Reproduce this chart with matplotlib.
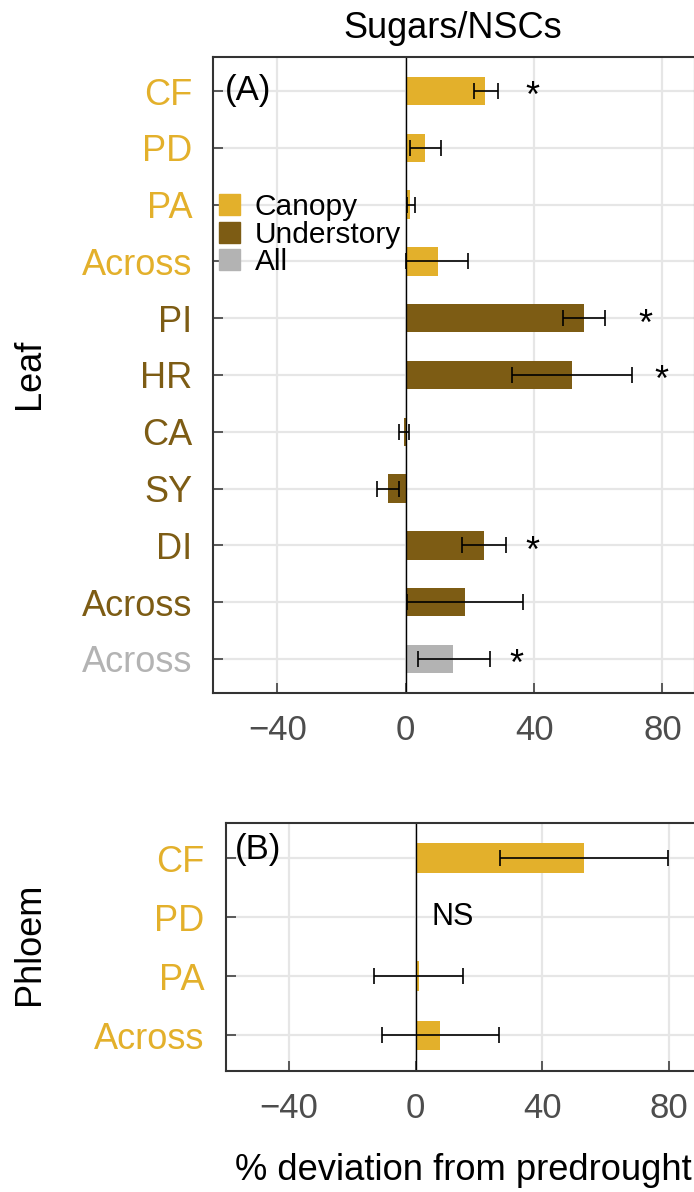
import numpy as np
import matplotlib
matplotlib.use("Agg")
import matplotlib.pyplot as plt
from matplotlib.patches import Patch

plt.rcParams['font.family'] = ['Liberation Sans', 'DejaVu Sans']

# ---------------- data ----------------
leaf_labels = ['CF', 'PD', 'PA', 'Across', 'PI', 'HR', 'CA', 'SY', 'DI', 'Across', 'Across']
leaf_groups = ['Canopy'] * 4 + ['Understory'] * 6 + ['All']
leaf_mean = [24.8, 6.1, 1.5, 10.0, 55.4, 51.9, -0.5, -5.4, 24.5, 18.5, 14.9]
leaf_lo = [21.2, 1.3, 0.3, 0.2, 49.1, 33.1, -2.1, -8.9, 17.7, 0.4, 3.7]
leaf_hi = [28.7, 11.1, 3.0, 19.5, 62.0, 70.6, 1.0, -2.2, 31.4, 36.6, 26.2]
leaf_star_x = [39.6, None, None, None, 74.8, 79.8, None, None, 39.6, None, 34.6]

phl_labels = ['CF', 'PD', 'PA', 'Across']
phl_groups = ['Canopy'] * 4
phl_mean = [53.1, np.nan, 1.0, 7.8]
phl_lo = [26.6, np.nan, -13.2, -10.7]
phl_hi = [79.7, np.nan, 15.0, 26.4]
phl_ns_x = 11.8
phl_ns_row = 1

xticks = [-40, 0, 40, 80]
xlim = (-60, 90)

colors = {'Canopy': '#E3B02B', 'Understory': '#7D5C14', 'All': '#B3B3B3'}

W, H = 694, 1192
fig = plt.figure(figsize=(W / 100, H / 100), dpi=100)

def fx(px):
    return px / W

def fy(py):
    return 1 - py / H

axA = fig.add_axes([fx(213), fy(693), fx(694.6) - fx(213), fy(57) - fy(693)])
axB = fig.add_axes([fx(225.7), fy(1070.7), fx(700.7) - fx(225.7), fy(822.7) - fy(1070.7)])

def style(ax, labels, groups, pad):
    n = len(labels)
    ax.set_xlim(*xlim)
    ax.set_ylim(n - 1 + 0.6, -0.6)
    ax.set_xticks(xticks)
    ax.set_xticklabels([f"{t}".replace('-', '\u2212') for t in xticks])
    ax.set_yticks(range(n))
    ax.set_yticklabels(labels)
    for lab, g in zip(ax.get_yticklabels(), groups):
        lab.set_color(colors[g])
    ax.tick_params(axis='y', direction='in', length=7, width=1.1, color='#333333',
                   labelsize=26, pad=pad)
    ax.tick_params(axis='x', direction='in', length=7, width=1.1, color='#333333',
                   labelsize=25, labelcolor='#4D4D4D', pad=pad)
    ax.grid(True, color='#E6E6E6', linewidth=1.6, zorder=0)
    ax.set_axisbelow(True)
    for s in ax.spines.values():
        s.set_color('#333333')
        s.set_linewidth(1.5)
    ax.axvline(0, color='black', linewidth=1.0, zorder=2)

def draw(ax, mean, lo, hi, groups):
    y = np.arange(len(mean))
    mean = np.array(mean, dtype=float)
    lo = np.array(lo, dtype=float)
    hi = np.array(hi, dtype=float)
    ok = ~np.isnan(mean)
    ax.barh(y[ok], mean[ok], height=0.5,
            color=[colors[g] for g, o in zip(groups, ok) if o], zorder=1.5)
    ax.errorbar(mean[ok], y[ok], xerr=[mean[ok] - lo[ok], hi[ok] - mean[ok]],
                fmt='none', ecolor='black', elinewidth=1.2, capsize=5.5, capthick=1.2, zorder=3)

style(axA, leaf_labels, leaf_groups, 15)
draw(axA, leaf_mean, leaf_lo, leaf_hi, leaf_groups)
for i, sx in enumerate(leaf_star_x):
    if sx is not None:
        axA.text(sx, i + 0.12, '*', ha='center', va='center', fontsize=26, color='black')
axA.text(0.025, 0.948, '(A)', transform=axA.transAxes, ha='left', va='center',
         fontsize=25)

handles = [Patch(color=colors[k]) for k in ['Canopy', 'Understory', 'All']]
axA.legend(handles, ['Canopy', 'Understory', 'All'], loc='upper left',
           bbox_to_anchor=(0.0, 0.795), frameon=False, fontsize=21.5,
           handlelength=0.7, handleheight=0.7, handletextpad=0.5,
           labelspacing=-0.02, borderaxespad=0.0, borderpad=0.2)

style(axB, phl_labels, phl_groups, 15.5)
draw(axB, phl_mean, phl_lo, phl_hi, phl_groups)
axB.text(phl_ns_x, phl_ns_row, 'NS', ha='center', va='center', fontsize=22)
axB.text(0.02, 0.89, '(B)', transform=axB.transAxes, ha='left', va='center', fontsize=25)

fig.text(fx(453), fy(28), 'Sugars/NSCs', ha='center', va='center', fontsize=26)
fig.text(fx(30), fy(374), 'Leaf', ha='center', va='center', rotation=90, fontsize=26)
fig.text(fx(30), fy(944), 'Phloem', ha='center', va='center', rotation=90, fontsize=26)
fig.text(fx(463), fy(1171), '% deviation from predrought', ha='center', va='center', fontsize=26.2)

fig.savefig('out.png', dpi=100)
